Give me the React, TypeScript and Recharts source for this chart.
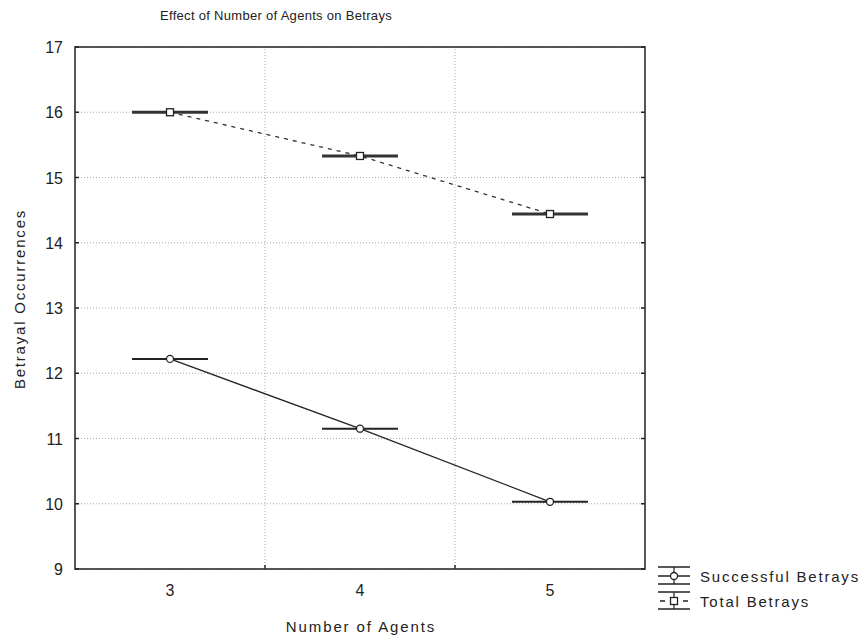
import { CartesianGrid, Line, LineChart, ReferenceArea, ReferenceDot, ReferenceLine, XAxis, YAxis } from "recharts";

const agents = [3, 4, 5];
const successfulBetrays = [12.22, 11.15, 10.03];
const totalBetrays = [16.0, 15.33, 14.44];
const yTicks = [9, 10, 11, 12, 13, 14, 15, 16, 17];
const xTicks = [3, 4, 5];
const boundaries = [3.5, 4.5];

const data = agents.map((a, i) => ({ agents: a, successful: successfulBetrays[i], total: totalBetrays[i] }));

const font = "'Liberation Sans', Arial, sans-serif";
const ink = "#222";
const plotLeft = 75;
const plotRight = 645;
const halfBar = 38;

function YTick({ y, payload }: any) {
  return (
    <g>
      <text x={plotLeft - 12} y={y + 6} textAnchor="end" fontSize={16} fill={ink} fontFamily={font}>
        {payload.value}
      </text>
      <line x1={plotLeft} x2={plotLeft + 4} y1={y} y2={y} stroke={ink} strokeWidth={1.5} />
      <line x1={plotRight - 4} x2={plotRight} y1={y} y2={y} stroke={ink} strokeWidth={1.5} />
    </g>
  );
}

function XTick({ x, payload }: any) {
  return (
    <text x={x} y={596} textAnchor="middle" fontSize={16} fill={ink} fontFamily={font}>
      {payload.value}
    </text>
  );
}

function BoundaryTick({ cx, cy }: any) {
  return <line x1={cx} x2={cx} y1={cy - 4} y2={cy} stroke={ink} strokeWidth={1.5} />;
}

function CircleDot({ cx, cy }: any) {
  return (
    <g>
      <line x1={cx - halfBar} x2={cx + halfBar} y1={cy} y2={cy} stroke={ink} strokeWidth={2} />
      <circle cx={cx} cy={cy} r={3.5} fill="#fff" stroke={ink} strokeWidth={1.3} />
    </g>
  );
}

function SquareDot({ cx, cy }: any) {
  return (
    <g>
      <line x1={cx - halfBar} x2={cx + halfBar} y1={cy} y2={cy} stroke="#333" strokeWidth={3} />
      <rect x={cx - 3.5} y={cy - 3.5} width={7} height={7} fill="#fff" stroke={ink} strokeWidth={1.3} />
    </g>
  );
}

function LegendBox() {
  const rows = [
    { label: "Successful Betrays", square: false, top: 0 },
    { label: "Total Betrays", square: true, top: 25 },
  ];
  return (
    <svg width={212} height={52} style={{ display: "block" }}>
      {rows.map((r) => (
        <g key={r.label} transform={`translate(0, ${r.top})`}>
          <line x1={6} x2={38} y1={3} y2={3} stroke={ink} strokeWidth={1.5} />
          <line x1={6} x2={38} y1={20} y2={20} stroke={ink} strokeWidth={1.5} />
          <line x1={22} x2={22} y1={3} y2={20} stroke={ink} strokeWidth={1.2} />
          {r.square ? (
            <>
              <line x1={8} x2={13} y1={12} y2={12} stroke={ink} strokeWidth={1.5} />
              <line x1={31} x2={36} y1={12} y2={12} stroke={ink} strokeWidth={1.5} />
              <rect x={18.5} y={8.5} width={7} height={7} fill="#fff" stroke={ink} strokeWidth={1.3} />
            </>
          ) : (
            <>
              <line x1={6} x2={38} y1={12} y2={12} stroke={ink} strokeWidth={1.5} />
              <circle cx={22} cy={12} r={3.5} fill="#fff" stroke={ink} strokeWidth={1.3} />
            </>
          )}
          <text x={48} y={18} fontSize={15} letterSpacing={1.8} fill={ink} fontFamily={font}>
            {r.label}
          </text>
        </g>
      ))}
    </svg>
  );
}

export default function App() {
  return (
    <div style={{ width: 864, height: 639, background: "#fff", position: "relative" }}>
      <style>{"body{margin:0}"}</style>
      <LineChart width={864} height={639} data={data} margin={{ top: 47, right: 219, bottom: 40, left: 35 }}>
        <CartesianGrid vertical={false} stroke="#aaa" strokeDasharray="1 2" />
        {boundaries.map((b) => (
          <ReferenceLine key={b} x={b} stroke="#aaa" strokeDasharray="1 2" />
        ))}
        <XAxis
          dataKey="agents"
          type="number"
          domain={[2.5, 5.5]}
          ticks={xTicks}
          height={30}
          axisLine={false}
          tickLine={false}
          tick={<XTick />}
        />
        <YAxis
          type="number"
          domain={[9, 17]}
          ticks={yTicks}
          width={40}
          axisLine={false}
          tickLine={false}
          tick={<YTick />}
        />
        <ReferenceArea x1={2.5} x2={5.5} y1={9} y2={17} fill="none" stroke={ink} strokeWidth={1.5} strokeOpacity={1} />
        {boundaries.map((b) => (
          <ReferenceDot key={`t${b}`} x={b} y={9} shape={<BoundaryTick />} />
        ))}
        <Line
          dataKey="total"
          name="Total Betrays"
          stroke="#333"
          strokeWidth={1.3}
          strokeDasharray="4 5"
          dot={(p: any) => <SquareDot {...p} key={`s${p.index}`} />}
          isAnimationActive={false}
        />
        <Line
          dataKey="successful"
          name="Successful Betrays"
          stroke={ink}
          strokeWidth={1.3}
          dot={(p: any) => <CircleDot {...p} key={`c${p.index}`} />}
          isAnimationActive={false}
        />
      </LineChart>
      <div style={{ position: "absolute", left: 652, top: 564 }}>
        <LegendBox />
      </div>
      <svg width={864} height={639} style={{ position: "absolute", left: 0, top: 0, pointerEvents: "none" }}>
        <text x={276} y={20} textAnchor="middle" fontSize={13} letterSpacing={0.3} fill={ink} fontFamily={font}>
          Effect of Number of Agents on Betrays
        </text>
        <text x={361} y={632} textAnchor="middle" fontSize={15} letterSpacing={1.9} fill={ink} fontFamily={font}>
          Number of Agents
        </text>
        <text transform="translate(25, 299) rotate(-90)" textAnchor="middle" fontSize={15} letterSpacing={1.8} fill={ink} fontFamily={font}>
          Betrayal Occurrences
        </text>
      </svg>
    </div>
  );
}
